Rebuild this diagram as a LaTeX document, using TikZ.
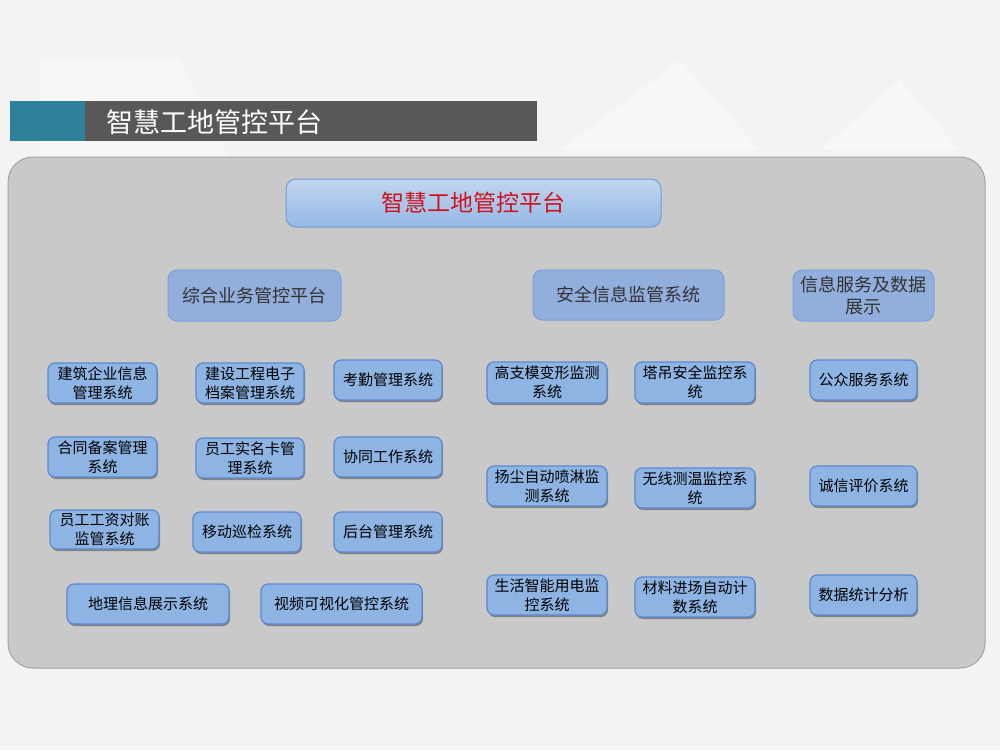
\documentclass[tikz,border=0pt]{standalone}
\usepackage{fontspec}
\setmainfont{Noto Sans CJK SC}
\usetikzlibrary{shadows}
\definecolor{bgc}{HTML}{F3F3F3}
\definecolor{panel}{HTML}{C9C9C9}
\definecolor{panelline}{HTML}{A3A3A3}
\definecolor{teal}{HTML}{2E8199}
\definecolor{darkbar}{HTML}{585858}
\definecolor{boxfill}{HTML}{8EB4E3}
\definecolor{boxline}{HTML}{5A8AD0}
\definecolor{midfill}{HTML}{92AEDD}
\definecolor{titred}{HTML}{D0101A}
\tikzset{
  sbox/.style={draw=boxline, line width=1.2pt, fill=boxfill, rounded corners=7pt,
    align=center, inner sep=1pt, font=\fontsize{15}{19}\selectfont, text=black,
    drop shadow={shadow xshift=1pt, shadow yshift=-2pt, opacity=0.35, fill=black}},
  mbox/.style={draw=boxline!80, line width=1pt, fill=midfill, rounded corners=9pt,
    align=center, inner sep=1pt, font=\fontsize{18}{22}\selectfont, text=black!80},
  tbox/.style={draw=boxline!85, line width=1pt, top color=boxfill!55!white, bottom color=boxfill!95,
    rounded corners=10pt, align=center, font=\fontsize{23}{26}\selectfont, text=titred},
}
\begin{document}
\begin{tikzpicture}[x=1pt,y=-1pt]
\fill[bgc] (0,0) rectangle (1000,750);
\useasboundingbox (0,0) rectangle (1000,750);
% faint background shapes
\fill[white,opacity=0.35] (40,60) -- (180,60) -- (230,160) -- (40,160) -- cycle;
\fill[white,opacity=0.35] (560,150) -- (680,60) -- (760,150) -- cycle;
\fill[white,opacity=0.35] (820,150) -- (900,80) -- (960,150) -- cycle;
% title bar
\fill[teal] (10,101) rectangle (85,141);
\fill[darkbar] (85,101) rectangle (537,141);
\node[anchor=west, text=white, font=\fontsize{27}{30}\selectfont, inner sep=0pt] (title) at (106,122) {智慧工地管控平台};
% panel
\draw[panelline, fill=panel, line width=1pt, rounded corners=25pt] (8,157) rectangle (985,668);
% top node
\node[tbox, minimum width=375pt, minimum height=48pt] (top) at (473.5,203) {智慧工地管控平台};
% level 2
\node[mbox, minimum width=173pt, minimum height=51pt] (m1) at (254.5,295.5) {综合业务管控平台};
\node[mbox, minimum width=191pt, minimum height=50pt] (m2) at (628.5,295) {安全信息监管系统};
\node[mbox, minimum width=141pt, minimum height=51pt] (m3) at (863.5,295.5) {信息服务及数据\\展示};
% left group
\node[sbox, minimum width=109pt, minimum height=40pt] (a1) at (102.5,383) {建筑企业信息\\管理系统};
\node[sbox, minimum width=108pt, minimum height=40pt] (a2) at (250,383) {建设工程电子\\档案管理系统};
\node[sbox, minimum width=108pt, minimum height=40pt] (a3) at (388,380) {考勤管理系统};
\node[sbox, minimum width=109pt, minimum height=40pt] (b1) at (102.5,457) {合同备案管理\\系统};
\node[sbox, minimum width=108pt, minimum height=40pt] (b2) at (250,458) {员工实名卡管\\理系统};
\node[sbox, minimum width=108pt, minimum height=40pt] (b3) at (388,457) {协同工作系统};
\node[sbox, minimum width=109pt, minimum height=39pt] (c1) at (104.5,529.5) {员工工资对账\\监管系统};
\node[sbox, minimum width=108pt, minimum height=40pt] (c2) at (247,532) {移动巡检系统};
\node[sbox, minimum width=108pt, minimum height=40pt] (c3) at (388,532) {后台管理系统};
\node[sbox, minimum width=162pt, minimum height=40pt] (d1) at (148,604) {地理信息展示系统};
\node[sbox, minimum width=161pt, minimum height=40pt] (d2) at (341.5,604) {视频可视化管控系统};
% middle group
\node[sbox, minimum width=120pt, minimum height=41pt] (e1) at (547,382.5) {高支模变形监测\\系统};
\node[sbox, minimum width=120pt, minimum height=41pt] (e2) at (695,382.5) {塔吊安全监控系\\统};
\node[sbox, minimum width=120pt, minimum height=40pt] (f1) at (547,486) {扬尘自动喷淋监\\测系统};
\node[sbox, minimum width=120pt, minimum height=40pt] (f2) at (695,488) {无线测温监控系\\统};
\node[sbox, minimum width=120pt, minimum height=40pt] (g1) at (547,595) {生活智能用电监\\控系统};
\node[sbox, minimum width=120pt, minimum height=40pt] (g2) at (695,597) {材料进场自动计\\数系统};
% right group
\node[sbox, minimum width=107pt, minimum height=40pt] (h1) at (863.5,380) {公众服务系统};
\node[sbox, minimum width=107pt, minimum height=40pt] (h2) at (863.5,486) {诚信评价系统};
\node[sbox, minimum width=107pt, minimum height=40pt] (h3) at (863.5,595) {数据统计分析};
\end{tikzpicture}
\end{document}
